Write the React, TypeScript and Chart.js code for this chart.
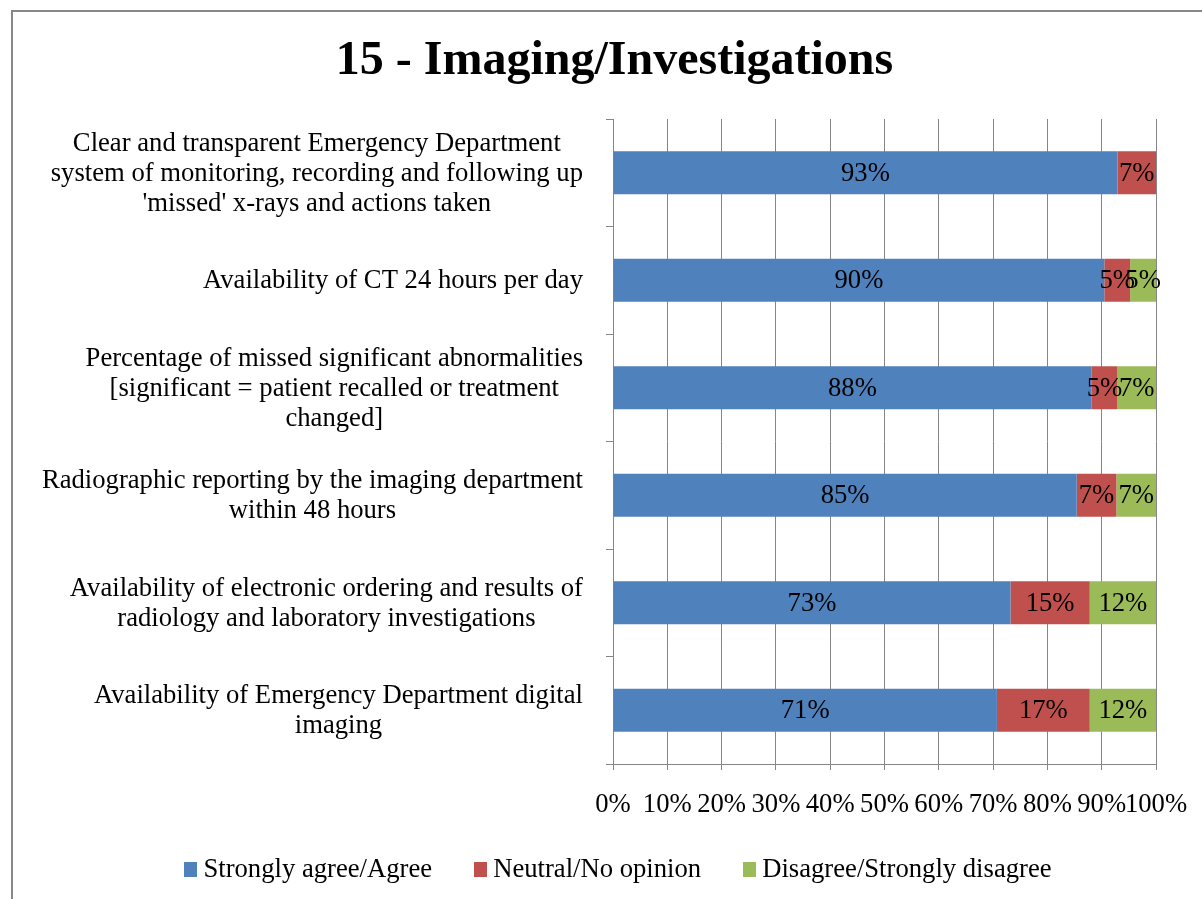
import React, { useEffect, useRef } from 'react';
import { Chart, registerables } from 'chart.js';

Chart.register(...registerables);

const categories: string[][] = [
  ['Clear and transparent Emergency Department', 'system of monitoring, recording and following up', "'missed' x-rays and actions taken"],
  ['Availability of CT 24 hours per day'],
  ['Percentage of missed significant abnormalities', '[significant = patient recalled or treatment', 'changed]'],
  ['Radiographic reporting by the imaging department', 'within 48 hours'],
  ['Availability of electronic ordering and results of', 'radiology and laboratory investigations'],
  ['Availability of Emergency Department digital', 'imaging'],
];

const seriesNames = ['Strongly agree/Agree', 'Neutral/No opinion', 'Disagree/Strongly disagree'];
const agree = [92.9, 90.48, 88.1, 85.4, 73.2, 70.7];
const neutral = [7.1, 4.76, 4.8, 7.3, 14.6, 17.1];
const disagree = [0, 4.76, 7.1, 7.3, 12.2, 12.2];
const seriesColors = ['#4F81BD', '#C0504D', '#9BBB59'];
const xTickValues = [0, 10, 20, 30, 40, 50, 60, 70, 80, 90, 100];

const FONT = "'Liberation Serif', 'Times New Roman', serif";
const FS = 26.67;
const GRID = '#868686';

export default function App() {
  const ref = useRef<HTMLCanvasElement>(null);

  useEffect(() => {
    if (!ref.current) return;

    const textPlugin = {
      id: 'customText',
      afterDatasetsDraw(chart: any) {
        const ctx = chart.ctx;
        ctx.save();
        ctx.fillStyle = '#000';
        ctx.textAlign = 'center';
        ctx.textBaseline = 'middle';
        ctx.font = `${FS}px ${FONT}`;
        chart.data.datasets.forEach((ds: any, di: number) => {
          const meta = chart.getDatasetMeta(di);
          meta.data.forEach((bar: any, i: number) => {
            const v = ds.data[i];
            if (!v) return;
            const { x, base, y } = bar.getProps(['x', 'base', 'y'], true);
            ctx.fillText(Math.round(v) + '%', (x + base) / 2, y + 1);
          });
        });
        const ys = chart.scales.y;
        const lh = 30;
        categories.forEach((lines, i) => {
          const cy = ys.getPixelForValue(i);
          const w = Math.max(...lines.map((l) => ctx.measureText(l).width));
          const cx = ys.right - 30 - w / 2;
          lines.forEach((l, k) => {
            ctx.fillText(l, cx, cy + (k - (lines.length - 1) / 2) * lh + 1);
          });
        });
        ctx.restore();
      },
      afterDraw(chart: any) {
        // legend
        const ctx = chart.ctx;
        ctx.save();
        ctx.font = `${FS}px ${FONT}`;
        ctx.textAlign = 'left';
        ctx.textBaseline = 'middle';
        const items = chart.data.datasets.map((ds: any) => ({ text: ds.label, color: ds.backgroundColor }));
        const widths = items.map((it: any) => ctx.measureText(it.text).width);
        const boxW = 13;
        const boxH = 15;
        const gap = 6;
        const spacing = 42;
        const total = widths.reduce((a: number, w: number) => a + boxW + gap + w, 0) + spacing * (items.length - 1);
        const cy = chart.scales.x.bottom + 41.3;
        let x = 618 - total / 2;
        items.forEach((it: any, k: number) => {
          ctx.fillStyle = it.color;
          ctx.fillRect(Math.round(x), Math.round(cy - 8), boxW, boxH);
          ctx.fillStyle = '#000';
          ctx.fillText(it.text, x + boxW + gap, cy);
          x += boxW + gap + widths[k] + spacing;
        });
        ctx.restore();
      },
    };

    const chart = new Chart(ref.current, {
      type: 'bar',
      data: {
        labels: categories.map((c) => c.join(' ')),
        datasets: [agree, neutral, disagree].map((d, i) => ({
          label: seriesNames[i],
          data: d,
          backgroundColor: seriesColors[i],
          borderWidth: 0,
          barPercentage: 0.4,
          categoryPercentage: 1.0,
        })),
      },
      options: {
        indexAxis: 'y',
        responsive: false,
        animation: false,
        devicePixelRatio: 1,
        layout: { padding: { left: 73, right: 46, top: 0, bottom: 70.3 } },
        plugins: {
          title: {
            display: true,
            text: '15 - Imaging/Investigations',
            color: '#000',
            font: { family: FONT, size: 48, weight: 'bold' },
            padding: { top: 33, bottom: 28.4 },
          },
          legend: { display: false },
          tooltip: { enabled: false },
        },
        scales: {
          x: {
            stacked: true,
            min: 0,
            max: 100,
            afterBuildTicks: (s: any) => {
              s.ticks = xTickValues.map((v) => ({ value: v }));
            },
            ticks: {
              callback: (v: any) => v + '%',
              color: '#000',
              font: { family: FONT, size: FS },
              padding: 19,
              autoSkip: false,
              maxRotation: 0,
              minRotation: 0,
            },
            grid: { color: GRID, lineWidth: 1, tickLength: 6, drawTicks: true },
            border: { color: GRID, width: 1 },
            afterFit: (s: any) => {
              s.height = 64.7;
              s.paddingLeft = 0;
              s.paddingRight = 0;
            },
          },
          y: {
            stacked: true,
            ticks: { display: false },
            grid: { drawOnChartArea: false, tickLength: 7, color: GRID, offset: true },
            border: { color: GRID, width: 1 },
            afterFit: (s: any) => {
              s.width = 540;
            },
          },
        },
      },
      plugins: [textPlugin],
    } as any);

    return () => chart.destroy();
  }, []);

  return (
    <div style={{ position: 'fixed', left: 0, top: 0, width: 1202, height: 899, overflow: 'hidden', background: '#fff' }}>
      <div
        style={{
          position: 'absolute',
          left: 11,
          top: 10,
          width: 1300,
          height: 1000,
          border: '2px solid #888',
        }}
      />
      <canvas ref={ref} width={1202} height={899} style={{ position: 'absolute', left: 0, top: 0 }} />
    </div>
  );
}
